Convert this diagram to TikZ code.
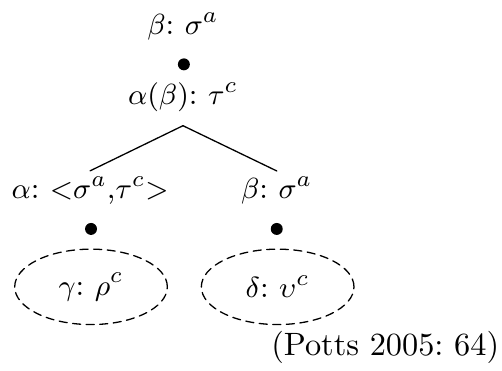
\documentclass[tikz,border=0pt]{standalone}
\usetikzlibrary{shapes.geometric}
\begin{document}
\frenchspacing
\begin{tikzpicture}[line join=round,line cap=round,
  lab/.style={inner sep=1.5pt,font=\fontsize{9.4}{11}\selectfont},
  bubble/.style={lab,draw,ellipse,dash pattern=on 2.5pt off 1.7pt,minimum width=1.66cm,minimum height=0.82cm,inner sep=0pt}]
\useasboundingbox (0,0) rectangle (5.46,-4.026);
\path
(1.99,-0.29) node[lab] (top) {$\beta$: $\sigma^a$}
(1.99,-1.06) node[lab] (app) {$\alpha(\beta)$: $\tau^c$}
(0.98,-2.07) node[lab] (fun) {$\alpha$: $<$$\sigma^a$,$\tau^c$$>$}
(3.01,-2.07) node[lab] (arg) {$\beta$: $\sigma^a$}
(0.99,-3.12) node[bubble] (ci1) {$\gamma$: $\rho^c$}
(3.02,-3.12) node[bubble] (ci2) {$\delta$: $\upsilon^c$}
(4.19,-3.78) node (src) {(Potts 2005: 64)}
(2.00,-0.70) coordinate (d1)
(0.99,-2.49) coordinate (d2)
(3.01,-2.49) coordinate (d3)
;
\draw ([yshift=-2.5pt]app.south)--(fun.north);
\draw ([yshift=-2.5pt]app.south)--(arg.north);
\foreach \p in {d1,d2,d3}
\fill[black] (\p) circle(1.85pt);
\end{tikzpicture}
\end{document}
